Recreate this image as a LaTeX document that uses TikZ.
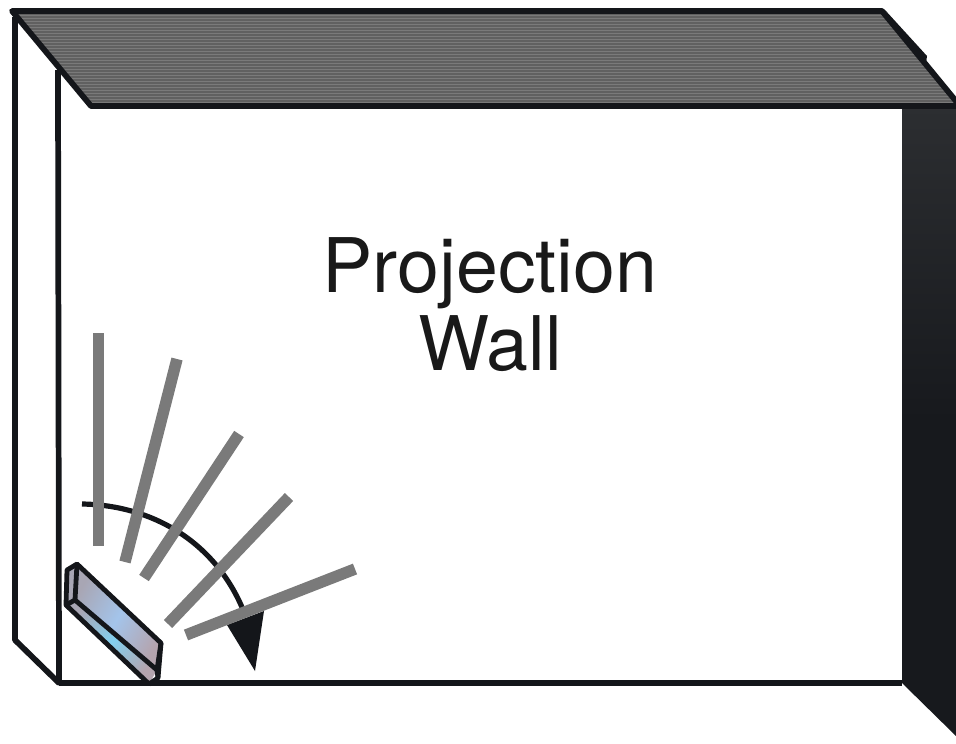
\documentclass[tikz,border=0pt]{standalone}
\usepackage{fontspec}
\setmainfont{TeX Gyre Heros}
\definecolor{wallink}{HTML}{14161A}
\definecolor{ceilinggray}{HTML}{7A7A7A}
\definecolor{ceilingline}{HTML}{606060}
\definecolor{beamgray}{HTML}{7A7A7A}
\definecolor{sidetop}{HTML}{2C2E31}
\definecolor{sidedark}{HTML}{17191D}
\definecolor{lampgray}{HTML}{A8A6B4}
\definecolor{lampblue}{HTML}{A4C4EA}
\definecolor{lamprose}{HTML}{B4A4AE}
\tikzset{
  wallline/.style={draw=wallink,line width=4.3pt,line join=round},
  beam/.style={draw=beamgray,line width=8.6pt},
  lampline/.style={draw=wallink,line width=3.6pt,line join=round},
  walllabel/.style={align=center,text=black!90,font=\fontsize{56.5}{58.5}\selectfont}
}
\begin{document}
\begin{tikzpicture}[x=0.75pt,y=-0.75pt]
  \useasboundingbox (0,0) rectangle (956,743);

  \coordinate (TL) at (12,11);
  \coordinate (TR) at (882,11);
  \coordinate (SR) at (960,106);
  \coordinate (BL) at (91,106);
  \coordinate (WA) at (15,17);
  \coordinate (WB) at (15,640);
  \coordinate (WC) at (59,683);
  \coordinate (WD) at (58,70);
  \coordinate (WE) at (902,683);
  \coordinate (WF) at (902,106);

  \fill[ceilinggray] (TL) -- (TR) -- (SR) -- (BL) -- cycle;
  \begin{scope}
    \clip (TL) -- (TR) -- (SR) -- (BL) -- cycle;
    \foreach \y in {14,17,...,104}
      \draw[ceilingline,line width=0.9pt] (0,\y) -- (956,\y);
  \end{scope}
  \path[top color=sidetop,bottom color=sidedark,middle color=sidedark]
    (WF) -- (956,106) -- (956,736) -- (WE) -- cycle;
  \fill[wallink] (885,10) -- (927,56) -- (926,63) -- (905,40) -- cycle;

  \draw[wallline] (WA) -- (WB) -- (WC) -- (WD);
  \draw[wallline] (WC) -- (WE);
  \draw[wallline] (TL) -- (TR) -- (SR) -- (BL) -- cycle;

  \node[walllabel] (label) at (490,305) {Projection\\Wall};

  \coordinate (Ta) at (82,504);
  \coordinate (Tb) at (244,612);
  \draw[wallink,line width=3.9pt] (Ta) .. controls (150,505) and (215,540) .. (Tb);
  \fill[wallink] (227,625) -- (264,611) -- (255,671) -- cycle;

  \coordinate (A1) at (98.7,333);
  \coordinate (B1) at (98.7,546);
  \coordinate (A2) at (177,359);
  \coordinate (B2) at (125,562);
  \coordinate (A3) at (239,434);
  \coordinate (B3) at (144,578);
  \coordinate (A4) at (289,497);
  \coordinate (B4) at (168,624);
  \coordinate (A5) at (355,569);
  \coordinate (B5) at (186,635);
  \foreach \v in {1,2,3,4,5}
    \draw[beam] (A\v) -- (B\v);

  \coordinate (LA) at (77,564);
  \coordinate (LB) at (67,570);
  \coordinate (LC) at (66,605);
  \coordinate (LD) at (149,684);
  \coordinate (LE) at (158,678);
  \coordinate (LF) at (161,643);
  \coordinate (LG) at (75,600);
  \coordinate (LH) at (157,670);

  \path[left color=lampgray,right color=lamprose,middle color=lampblue,shading angle=60]
    (LA) -- (LF) -- (LH) -- (LG) -- cycle;
  \path[left color=lampgray,right color=lamprose,middle color=lampblue!80!cyan,shading angle=45]
    (LC) -- (LG) -- (LH) -- (LD) -- cycle;
  \fill[lampgray] (LA) -- (LB) -- (LC) -- (LG) -- cycle;
  \draw[lampline] (LA) -- (LB) -- (LC) -- (LD) -- (LE) -- (LF) -- cycle;
  \draw[lampline] (LA) -- (LG) -- (LC);
  \draw[lampline] (LG) -- (LH) -- (LF);
  \draw[lampline] (LH) -- (LE);
\end{tikzpicture}
\end{document}
